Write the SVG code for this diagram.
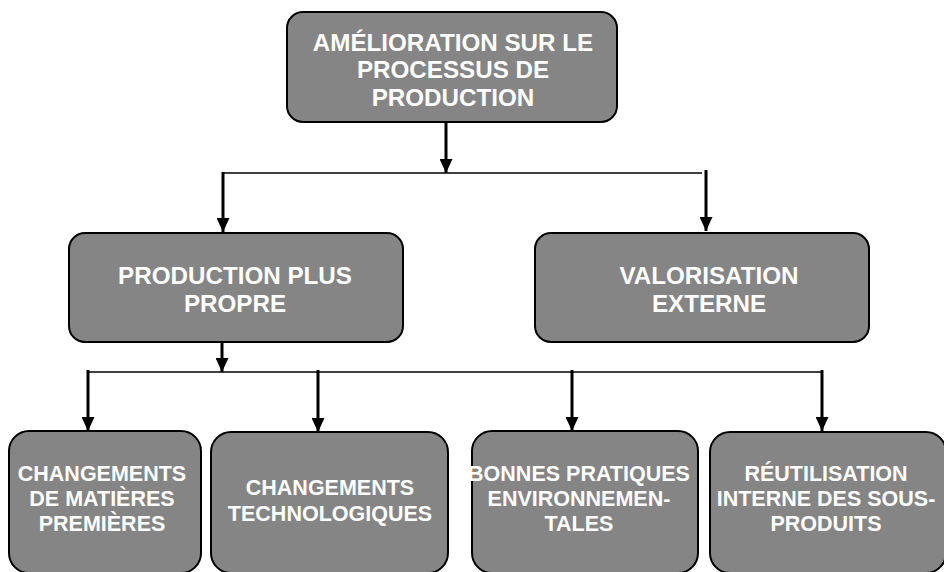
<svg xmlns="http://www.w3.org/2000/svg" width="944" height="572" viewBox="0 0 944 572">
<defs>
<style>
.box{fill:#858585;stroke:#000;stroke-width:2}
.t{font-family:"Liberation Sans",Arial,sans-serif;font-weight:bold;fill:#fff;text-anchor:middle}
.big{font-size:24.2px}
.small{font-size:21.5px}
.h{stroke:#000;stroke-width:1.6;fill:none}
.v{stroke:#000;stroke-width:3;fill:none;marker-end:url(#ah)}
</style>
<marker id="ah" markerUnits="userSpaceOnUse" markerWidth="14" markerHeight="13" refX="14" refY="6.5" orient="auto">
<path d="M0,0 L14,6.5 L0,13 z" fill="#000"/>
</marker>
</defs>
<rect width="944" height="572" fill="#fff"/>
<g id="connectors">
<line class="h" x1="222" y1="173" x2="702" y2="173"/>
<line class="v" x1="446" y1="122" x2="446" y2="173"/>
<line class="v" x1="223" y1="172" x2="223" y2="232"/>
<line class="v" x1="706" y1="170" x2="706" y2="231"/>
<line class="h" x1="87" y1="372" x2="822" y2="372"/>
<line class="v" x1="222" y1="335" x2="222" y2="372"/>
<line class="v" x1="88" y1="370" x2="88" y2="431"/>
<line class="v" x1="318" y1="370" x2="318" y2="432"/>
<line class="v" x1="572" y1="370" x2="572" y2="431"/>
<line class="v" x1="822" y1="370" x2="822" y2="431"/>
</g>
<g id="n-top">
<rect class="box" x="287" y="12" width="330" height="110" rx="16"/>
<text class="t big" x="453" y="50.5">AMÉLIORATION SUR LE</text>
<text class="t big" x="453" y="78">PROCESSUS DE</text>
<text class="t big" x="453" y="105.5">PRODUCTION</text>
</g>
<g id="n-ppp">
<rect class="box" x="69" y="233" width="334" height="109" rx="16"/>
<text class="t big" x="235" y="283.5">PRODUCTION PLUS</text>
<text class="t big" x="235" y="311.5">PROPRE</text>
</g>
<g id="n-val">
<rect class="box" x="535" y="233" width="334" height="109" rx="16"/>
<text class="t big" x="709" y="283.5">VALORISATION</text>
<text class="t big" x="709" y="311.5">EXTERNE</text>
</g>
<g id="n-mat">
<rect class="box" x="9" y="431" width="192" height="142" rx="20"/>
<text class="t small" x="102" y="480.5">CHANGEMENTS</text>
<text class="t small" x="102" y="505.5">DE MATIÈRES</text>
<text class="t small" x="102" y="530.5">PREMIÈRES</text>
</g>
<g id="n-tech">
<rect class="box" x="211" y="432" width="237" height="141" rx="20"/>
<text class="t small" x="330" y="494.5">CHANGEMENTS</text>
<text class="t small" x="330" y="520.5">TECHNOLOGIQUES</text>
</g>
<g id="n-bp">
<rect class="box" x="472" y="431" width="226" height="142" rx="20"/>
<text class="t small" x="579" y="480.5">BONNES PRATIQUES</text>
<text class="t small" x="579" y="505.5">ENVIRONNEMEN-</text>
<text class="t small" x="579" y="530.5">TALES</text>
</g>
<g id="n-reu">
<rect class="box" x="710" y="432" width="236" height="141" rx="20"/>
<text class="t small" x="826" y="480.5">RÉUTILISATION</text>
<text class="t small" x="826" y="505.5">INTERNE DES SOUS-</text>
<text class="t small" x="826" y="530.5">PRODUITS</text>
</g>
</svg>
